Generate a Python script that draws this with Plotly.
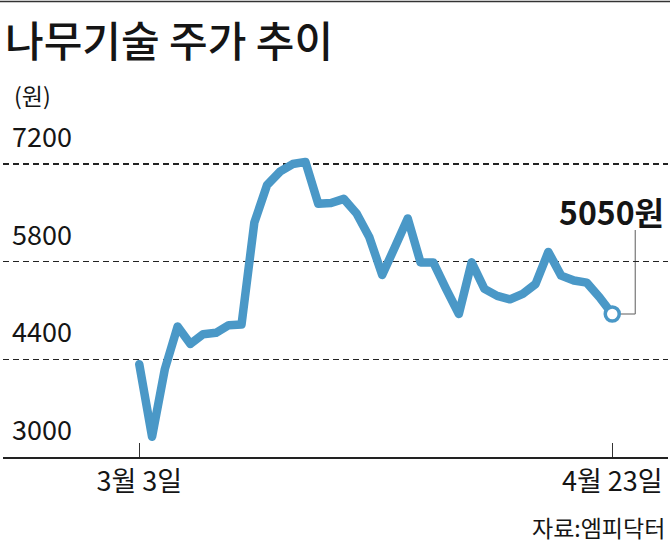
import plotly.graph_objects as go

# ---- data ----
day_index = list(range(38))
close = [4330, 3290, 4260, 4870, 4620, 4760, 4780, 4890, 4900, 6360,
         6900, 7090, 7200, 7230, 6630, 6640, 6700, 6490, 6150, 5610,
         6010, 6420, 5790, 5790, 5410, 5050, 5790, 5410, 5310, 5260,
         5340, 5480, 5940, 5600, 5530, 5500, 5290, 5050]
x_tick_vals = [0, 37]
x_tick_text = ["3월 3일", "4월 23일"]
y_ticks = [3000, 4400, 5800, 7200]
title_text = "나무기술 주가 추이"
unit_text = "(원)"
source_text = "자료:엠피닥터"

BLUE = "#4a98c7"
INK = "#151515"
KR = "Noto Sans CJK KR, sans-serif"

fig = go.Figure()
fig.add_trace(go.Scatter(
    x=day_index, y=close, mode="lines",
    line=dict(color=BLUE, width=8.5),
    hoverinfo="skip", showlegend=False,
))
fig.add_trace(go.Scatter(
    x=[day_index[-1]], y=[close[-1]], mode="markers",
    marker=dict(symbol="circle", size=14, color="white",
                line=dict(color=BLUE, width=3.5)),
    hoverinfo="skip", showlegend=False,
))

annotations = []
# y tick labels above gridlines
for v in y_ticks:
    annotations.append(dict(
        x=0.0105, xref="paper", y=v, yref="y", xanchor="left", yanchor="bottom",
        yshift=7, text=f"{v}", showarrow=False,
        font=dict(family=KR, size=27, color=INK),
    ))
# title
annotations.append(dict(
    x=0.0, xref="paper", y=1.2774, yref="paper", xanchor="left", yanchor="middle",
    text=title_text, showarrow=False,
    font=dict(family=KR, size=42, color=INK, weight=500),
))
annotations.append(dict(
    x=0.0135, xref="paper", y=1.1037, yref="paper", xanchor="left", yanchor="middle",
    text=unit_text, showarrow=False,
    font=dict(family=KR, size=23, color=INK),
))
annotations.append(dict(
    x=0.9985, xref="paper", y=-0.2134, yref="paper", xanchor="right", yanchor="middle",
    text=source_text, showarrow=False,
    font=dict(family=KR, size=23, color=INK),
))
# last value label
annotations.append(dict(
    x=day_index[-1], xref="x", y=close[-1], yref="y", xanchor="right", yanchor="bottom",
    xshift=54, yshift=78, text=f"<b>{close[-1]}원</b>", showarrow=False,
    font=dict(family=KR, size=32, color=INK),
))

shapes = [
    # top rule
    dict(type="line", xref="paper", yref="paper", x0=-0.006, x1=1.004,
         y0=1.3887, y1=1.3887, line=dict(color="#333333", width=1.5)),
    # leader line from last point
    dict(type="line", xref="x", yref="y", xsizemode="pixel", ysizemode="pixel",
         xanchor=day_index[-1], yanchor=close[-1], x0=8, x1=23, y0=0, y1=0,
         line=dict(color="#777777", width=1.2), layer="below"),
    dict(type="line", xref="x", yref="y", xsizemode="pixel", ysizemode="pixel",
         xanchor=day_index[-1], yanchor=close[-1], x0=23, x1=23, y0=0, y1=84,
         line=dict(color="#777777", width=1.2), layer="below"),
]

fig.update_layout(
    width=670, height=546,
    margin=dict(l=3, r=2, t=129, b=89),
    paper_bgcolor="white", plot_bgcolor="white",
    showlegend=False,
    annotations=annotations,
    shapes=shapes,
    xaxis=dict(
        range=[-10.66, 41.36], showgrid=False, zeroline=False,
        showline=True, linecolor="#222222", linewidth=2,
        tickmode="array", tickvals=x_tick_vals, ticktext=x_tick_text,
        ticks="inside", ticklen=14, tickwidth=1.3, tickcolor="#333333",
        tickfont=dict(family=KR, size=27, color=INK),
        fixedrange=True,
    ),
    yaxis=dict(
        range=[y_ticks[0], 7702], showline=False, zeroline=False,
        tickmode="array", tickvals=y_ticks[1:], showticklabels=False,
        showgrid=True, gridcolor="#222222", gridwidth=1.6, griddash="6px,4px",
        fixedrange=True,
    ),
)

post = (
    "document.body.style.margin='0';"
    "document.querySelectorAll('.scatterlayer .js-line').forEach(function(p){"
    "p.style.strokeLinejoin='round';p.style.strokeLinecap='round';});"
)
fig.write_html("out.html", post_script=post,
               config={"displayModeBar": False, "staticPlot": True})
